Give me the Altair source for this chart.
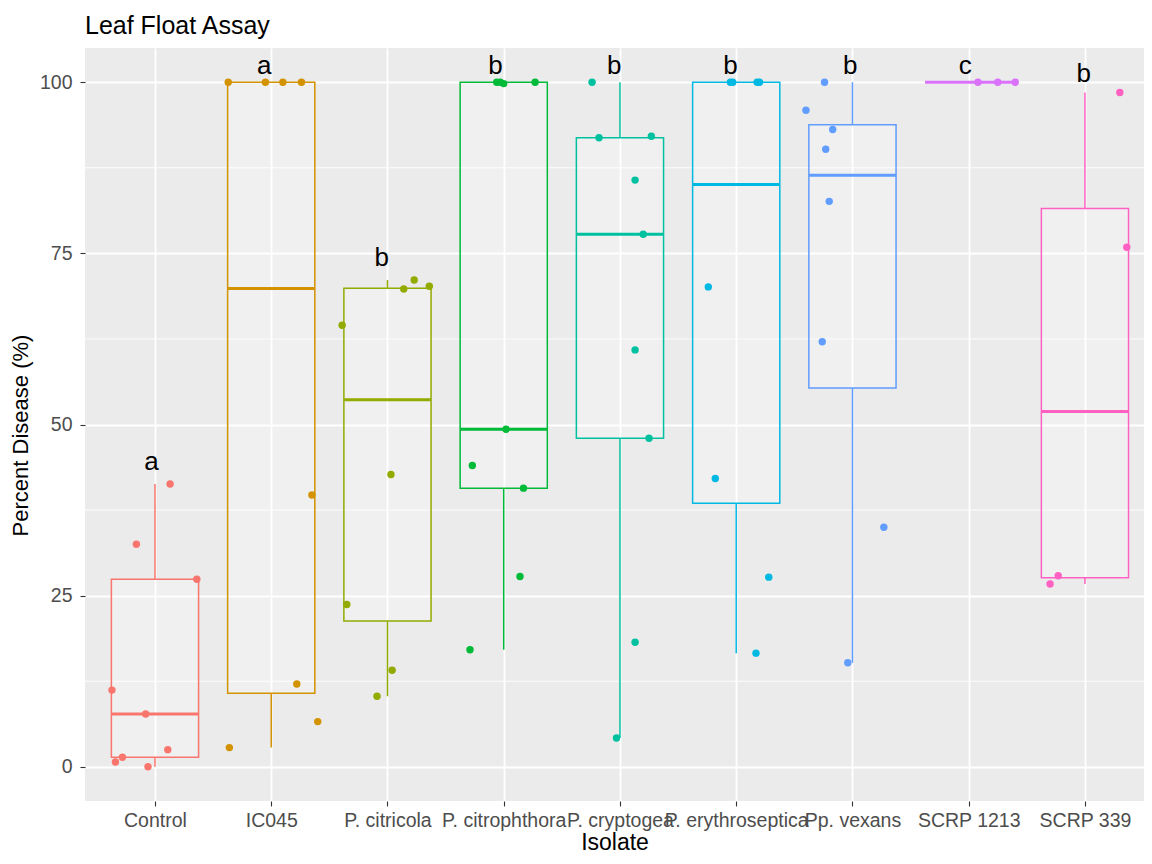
import altair as alt
import pandas as pd
import numpy as np

groups = ["Control", "IC045", "P. citricola", "P. citrophthora", "P. cryptogea",
          "P. erythroseptica", "Pp. vexans", "SCRP 1213", "SCRP 339"]
colors = ["#F8766D", "#D39200", "#93AA00", "#00BA38", "#00C19F",
          "#00B9E3", "#619CFF", "#DB72FB", "#FF61C3"]

control_vals = [41.3, 32.5, 27.4, 11.2, 7.7, 2.5, 1.4, 0.7, 0.0]
control_jit = [0.13, -0.16, 0.36, -0.37, -0.08, 0.11, -0.28, -0.34, -0.06]
ic045_vals = [100, 100, 100, 100, 39.7, 12.1, 6.6, 2.8]
ic045_jit = [-0.37, -0.05, 0.10, 0.26, 0.35, 0.22, 0.40, -0.36]
citricola_vals = [71.1, 69.8, 70.2, 64.5, 42.7, 23.7, 14.1, 10.3]
citricola_jit = [0.23, 0.14, 0.36, -0.39, 0.03, -0.35, 0.04, -0.09]
citrophthora_vals = [100, 99.8, 100, 100, 49.3, 44.0, 40.7, 27.8, 17.1]
citrophthora_jit = [-0.06, 0.00, 0.27, -0.03, 0.02, -0.27, 0.17, 0.14, -0.29]
cryptogea_vals = [100, 91.9, 92.1, 85.7, 77.8, 60.9, 48.0, 18.2, 4.2]
cryptogea_jit = [-0.24, -0.18, 0.27, 0.13, 0.20, 0.13, 0.25, 0.13, -0.03]
erythro_vals = [100, 100, 100, 100, 70.1, 42.1, 27.7, 16.6]
erythro_jit = [-0.05, 0.20, -0.03, 0.18, -0.24, -0.18, 0.28, 0.17]
vexans_vals = [100, 95.9, 93.1, 90.2, 82.6, 62.1, 35.0, 15.2]
vexans_jit = [-0.24, -0.40, -0.17, -0.23, -0.20, -0.26, 0.27, -0.04]
scrp1213_vals = [100, 100, 100]
scrp1213_jit = [0.08, 0.25, 0.40]
scrp339_vals = [98.5, 75.9, 27.9, 26.7]
scrp339_jit = [0.30, 0.36, -0.23, -0.30]

letters = ["a", "a", "b", "b", "b", "b", "b", "c", "b"]
letter_y = [43.4, 101.2, 73.1, 101.2, 101.2, 101.2, 101.2, 101.2, 100.0]
letter_dx = [-0.03, -0.06, -0.05, -0.07, -0.05, -0.05, -0.02, -0.03, -0.01]

y_ticks = [0, 25, 50, 75, 100]
y_minor = [12.5, 37.5, 62.5, 87.5]

all_vals = [control_vals, ic045_vals, citricola_vals, citrophthora_vals, cryptogea_vals,
            erythro_vals, vexans_vals, scrp1213_vals, scrp339_vals]
all_jit = [control_jit, ic045_jit, citricola_jit, citrophthora_jit, cryptogea_jit,
           erythro_jit, vexans_jit, scrp1213_jit, scrp339_jit]

BOX_HALF = 0.375

pt_rows, box_rows = [], []
for i, (g, vals, jit) in enumerate(zip(groups, all_vals, all_jit)):
    idx = i + 1
    for v, j in zip(vals, jit):
        pt_rows.append({"group": g, "x": idx + j, "value": v})
    arr = np.array(vals, dtype=float)
    q1, med, q3 = np.percentile(arr, [25, 50, 75])
    iqr = q3 - q1
    lo = arr[arr >= q1 - 1.5 * iqr].min()
    hi = arr[arr <= q3 + 1.5 * iqr].max()
    box_rows.append({"group": g, "idx": idx, "xl": idx - BOX_HALF, "xr": idx + BOX_HALF,
                     "q1": q1, "med": med, "q3": q3, "lo": lo, "hi": hi,
                     "letter": letters[i], "ly": letter_y[i], "lx": idx + letter_dx[i]})

pts = pd.DataFrame(pt_rows)
boxes = pd.DataFrame(box_rows)
minor_df = pd.DataFrame({"y": y_minor})

label_js = "[" + ",".join("'" + g + "'" for g in groups) + "][datum.value - 1]"

xscale = alt.Scale(domain=[0.398, 9.508], nice=False, zero=False)
yscale = alt.Scale(domain=[-5, 105], nice=False, zero=False)

xaxis = alt.Axis(values=list(range(1, 10)), labelExpr=label_js, title="Isolate",
                 grid=True, gridColor="white", gridWidth=1.8, domain=False,
                 tickColor="#333333", tickSize=5, tickWidth=1.1,
                 labelFontSize=19.5, labelColor="#4D4D4D", labelPadding=5,
                 labelOverlap=False, labelBound=False, labelFlush=False,
                 titleFontSize=23, titleFontWeight="normal", titleColor="black",
                 titlePadding=2)
yaxis = alt.Axis(values=y_ticks, title="Percent Disease (%)",
                 grid=True, gridColor="white", gridWidth=1.8, domain=False,
                 tickColor="#333333", tickSize=5, tickWidth=1.1,
                 labelFontSize=19.5, labelColor="#4D4D4D", labelPadding=8,
                 titleFontSize=22, titleFontWeight="normal", titleColor="black",
                 titlePadding=7, titleY=387)

color = alt.Color("group:N", scale=alt.Scale(domain=groups, range=colors), legend=None)


def X(field):
    return alt.X(field, type="quantitative", scale=xscale, axis=xaxis)


def Y(field):
    return alt.Y(field, type="quantitative", scale=yscale, axis=yaxis)


minor = alt.Chart(minor_df).mark_rule(color="white", strokeWidth=0.9).encode(
    y=Y("y"))

whisk_hi = alt.Chart(boxes).mark_rule(strokeWidth=1.5).encode(
    x=X("idx"), y=Y("q3"), y2="hi", color=color)
whisk_lo = alt.Chart(boxes).mark_rule(strokeWidth=1.5).encode(
    x=X("idx"), y=Y("lo"), y2="q1", color=color)
box = alt.Chart(boxes).mark_rect(fill="white", fillOpacity=0.25, strokeWidth=1.5).encode(
    x=X("xl"), x2="xr", y=Y("q1"), y2="q3", stroke=color)
median = alt.Chart(boxes).mark_rule(strokeWidth=3).encode(
    x=X("xl"), x2="xr", y=Y("med"), color=color)
points = alt.Chart(pts).mark_circle(size=55, opacity=1).encode(
    x=X("x"), y=Y("value"), color=color)
text = alt.Chart(boxes).mark_text(fontSize=26, color="black", baseline="alphabetic",
                                  align="center").encode(
    x=X("lx"), y=Y("ly"), text="letter:N")

chart = alt.layer(minor, whisk_hi, whisk_lo, box, median, points, text).properties(
    width=1059, height=753,
    title=alt.TitleParams("Leaf Float Assay", anchor="start", frame="group",
                          fontSize=25, fontWeight="normal", color="black", offset=9),
    padding={"left": 77, "top": 40, "right": 0, "bottom": 57},
    autosize=alt.AutoSizeParams(type="none"),
).configure(font="Liberation Sans").configure_view(fill="#EBEBEB", strokeWidth=0)

chart.save("out.html", embed_options={"renderer": "svg", "actions": False})
